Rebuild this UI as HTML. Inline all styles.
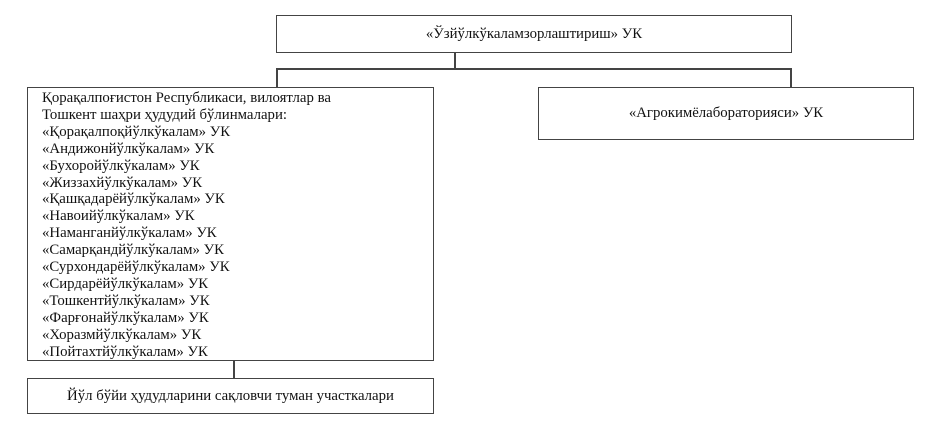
<!DOCTYPE html>
<html><head><meta charset="utf-8"><style>
body{margin:0;width:929px;height:431px;background:#fff;position:relative;overflow:hidden;font-family:"Liberation Serif",serif;color:#111;font-size:14.8px}
.b{position:absolute;border:1.3px solid #444;box-sizing:border-box;background:#fff}
.l{position:absolute;background:#444}
.c{display:flex;align-items:center;justify-content:center}
</style></head><body>
<div class="b c" style="left:276px;top:15px;width:516px;height:38px">«Ўзйўлкўкаламзорлаштириш» УК</div>
<div class="l" style="left:454px;top:52px;width:1.5px;height:18px"></div>
<div class="l" style="left:276px;top:68px;width:516px;height:1.5px"></div>
<div class="l" style="left:276px;top:68px;width:1.5px;height:20px"></div>
<div class="l" style="left:790px;top:68px;width:1.5px;height:20px"></div>
<div class="b c" style="left:538px;top:87px;width:376px;height:53px">«Агрокимёлаборатoрияси» УК</div>
<div class="b" style="left:27px;top:87px;width:407px;height:274px;padding:2px 0 0 14px;line-height:16.9px">Қорақалпоғистон Республикаси, вилоятлар ва<br>Тошкент шаҳри ҳудудий бўлинмалари:<br>«Қорақалпоқйўлкўкалам» УК<br>«Андижонйўлкўкалам» УК<br>«Бухоройўлкўкалам» УК<br>«Жиззахйўлкўкалам» УК<br>«Қашқадарёйўлкўкалам» УК<br>«Навоийўлкўкалам» УК<br>«Наманганйўлкўкалам» УК<br>«Самарқандйўлкўкалам» УК<br>«Сурхондарёйўлкўкалам» УК<br>«Сирдарёйўлкўкалам» УК<br>«Тошкентйўлкўкалам» УК<br>«Фарғонайўлкўкалам» УК<br>«Хоразмйўлкўкалам» УК<br>«Пойтахтйўлкўкалам» УК</div>
<div class="l" style="left:233px;top:360px;width:1.5px;height:19px"></div>
<div class="b c" style="left:27px;top:378px;width:407px;height:36px">Йўл бўйи ҳудудларини сақловчи туман участкалари</div>
</body></html>
